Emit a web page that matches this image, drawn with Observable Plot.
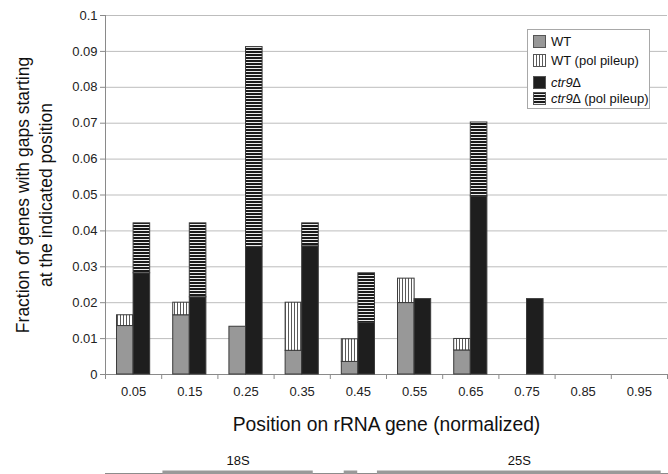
<!DOCTYPE html>
<html><head><meta charset="utf-8">
<script src="https://cdn.jsdelivr.net/npm/d3@7"></script>
<script src="https://cdn.jsdelivr.net/npm/@observablehq/plot@0.6"></script>
<style>
body{margin:0;background:#fff;font-family:"Liberation Sans",Arial,sans-serif;}
#wrap{position:relative;width:668px;height:474px;overflow:hidden;}
#wrap svg{display:block;}
.legend{position:absolute;left:527px;top:29px;width:121px;height:78px;border:1px solid #a8a8a8;background:#fff;font-size:13px;color:#111;font-family:"Liberation Sans",Arial,sans-serif;}
.row{position:absolute;left:5px;height:13px;line-height:13px;white-space:nowrap;}
.row svg{position:absolute;left:0;top:0;}
.row span{position:absolute;left:18px;top:0;}
</style></head><body>
<svg width="0" height="0" style="position:absolute">
  <defs>
    <pattern id="hstripe" patternUnits="userSpaceOnUse" width="4" height="3">
      <rect width="4" height="3" fill="#ececec"/><rect width="4" height="2" fill="#1a1a1a"/>
    </pattern>
    <pattern id="vstripe" patternUnits="userSpaceOnUse" width="3" height="4">
      <rect width="3" height="4" fill="#fff"/><rect width="1" height="4" fill="#5a5a5a"/>
    </pattern>
  </defs>
</svg>
<div id="wrap"></div>
<script>
// ---- data ----
const positions   = [0.05, 0.15, 0.25, 0.35, 0.45, 0.55, 0.65, 0.75, 0.85, 0.95];
const wtGaps      = [0.0135, 0.0165, 0.0133, 0.0066, 0.0035, 0.0199, 0.0067, 0, 0, 0];
const wtPileup    = [0.0030, 0.0035, 0, 0.0134, 0.0063, 0.0068, 0.0032, 0, 0, 0];
const ctr9Gaps    = [0.0282, 0.0215, 0.0355, 0.0357, 0.0144, 0.0210, 0.0496, 0.0210, 0, 0];
const ctr9Pileup  = [0.0139, 0.0206, 0.0557, 0.0064, 0.0138, 0, 0.0206, 0, 0, 0];
const yTicks      = [0, 0.01, 0.02, 0.03, 0.04, 0.05, 0.06, 0.07, 0.08, 0.09, 0.1];
const yTickLabels = ["0", "0.01", "0.02", "0.03", "0.04", "0.05", "0.06", "0.07", "0.08", "0.09", "0.1"];
const xTickLabels = ["0.05", "0.15", "0.25", "0.35", "0.45", "0.55", "0.65", "0.75", "0.85", "0.95"];
const geneNames   = ["18S", "", "25S"];
const geneStart   = [0.102, 0.424, 0.483];
const geneEnd     = [0.369, 0.448, 0.987];
const yTitle = "Fraction of genes with gaps starting\nat the indicated position";
const xTitle = "Position on rRNA gene (normalized)";

// ---- build tables ----
const barW = 0.0295;
const rows = [];
positions.forEach((p, i) => {
  rows.push({series: "WT", part: "gap", x1: p - barW, x2: p, y1: 0, y2: wtGaps[i]});
  rows.push({series: "WT", part: "pileup", x1: p - barW, x2: p, y1: wtGaps[i], y2: wtGaps[i] + wtPileup[i]});
  rows.push({series: "ctr9", part: "gap", x1: p, x2: p + barW, y1: 0, y2: ctr9Gaps[i]});
  rows.push({series: "ctr9", part: "pileup", x1: p, x2: p + barW, y1: ctr9Gaps[i], y2: ctr9Gaps[i] + ctr9Pileup[i]});
});
const fills = {"WT|gap": "#989898", "WT|pileup": "url(#vstripe)", "ctr9|gap": "#1e1e1e", "ctr9|pileup": "url(#hstripe)"};
const boundaries = [0, ...positions.map(p => +(p + 0.05).toFixed(2))];
const genes = geneNames.map((n, i) => ({name: n, x1: geneStart[i], x2: geneEnd[i], xc: (geneStart[i] + geneEnd[i]) / 2}));

const font = "'Liberation Sans', Arial, sans-serif";
const main = Plot.plot({
  width: 668, height: 445,
  marginLeft: 105, marginRight: 1, marginTop: 15, marginBottom: 71,
  x: {domain: [0, 1]},
  y: {domain: [0, 0.1]},
  style: {fontFamily: font, fontSize: "13px", color: "#222", background: "#fff"},
  marks: [
    Plot.gridY(yTicks.slice(1), {stroke: "#bdbdbd", strokeOpacity: 1}),
    Plot.axisY(yTicks, {tickSize: 5, tickPadding: 3, stroke: "#8a8a8a", label: null, fontSize: 13,
      tickFormat: d => yTickLabels[yTicks.indexOf(d)]}),
    Plot.axisX(boundaries, {tickSize: 5, stroke: "#8a8a8a", label: null, tickFormat: () => ""}),
    Plot.axisX(positions, {tickSize: 0, tickPadding: 12, label: null, fontSize: 13,
      tickFormat: d => xTickLabels[positions.indexOf(d)]}),
    Plot.ruleX([0], {stroke: "#8a8a8a"}),
    Plot.ruleY([0], {stroke: "#8a8a8a"}),
    Plot.rect(rows, {filter: d => d.y2 > d.y1, x1: "x1", x2: "x2", y1: "y1", y2: "y2",
      fill: d => fills[d.series + "|" + d.part], stroke: "#3a3a3a", strokeWidth: 1}),
    Plot.text([yTitle], {text: d => d, frameAnchor: "left", rotate: -90, dx: -72,
      fontSize: 17.5, lineHeight: 1.3, textAnchor: "middle", lineAnchor: "middle", fill: "#111"}),
    Plot.text([xTitle], {text: d => d, frameAnchor: "bottom", dy: 50,
      fontSize: 19.3, textAnchor: "middle", lineAnchor: "middle", fill: "#111"})
  ]
});

const geneMap = Plot.plot({
  width: 668, height: 29,
  marginLeft: 105, marginRight: 0, marginTop: 0, marginBottom: 1,
  x: {domain: [0, 1], axis: null},
  y: {axis: null},
  style: {fontFamily: font, fontSize: "13px", color: "#222", background: "#fff"},
  marks: [
    Plot.frame({anchor: "bottom", stroke: "#8c8c8c"}),
    Plot.rect(genes, {x1: "x1", x2: "x2", insetTop: 25.5, insetBottom: -2, fill: "#999"}),
    Plot.text(genes, {x: "xc", text: "name", frameAnchor: "bottom", dy: -9, fill: "#111", fontSize: 13})
  ]
});

const wrap = document.getElementById("wrap");
wrap.appendChild(main);
wrap.appendChild(geneMap);

// legend
const legendItems = [
  {label: "WT", fill: "#989898", top: 5},
  {label: "WT (pol pileup)", fill: "url(#vstripe)", top: 24},
  {label: "<i>ctr9\u2206</i>", fill: "#1e1e1e", top: 46},
  {label: "<i>ctr9\u2206</i> (pol pileup)", fill: "url(#hstripe)", top: 62}
];
const leg = document.createElement("div");
leg.className = "legend";
leg.innerHTML = legendItems.map(it =>
  `<div class="row" style="top:${it.top}px"><svg width="13" height="13"><rect x="0.5" y="0.5" width="12" height="12" fill="${it.fill}" stroke="#555"/></svg><span>${it.label}</span></div>`
).join("");
wrap.appendChild(leg);
</script>
</body></html>
